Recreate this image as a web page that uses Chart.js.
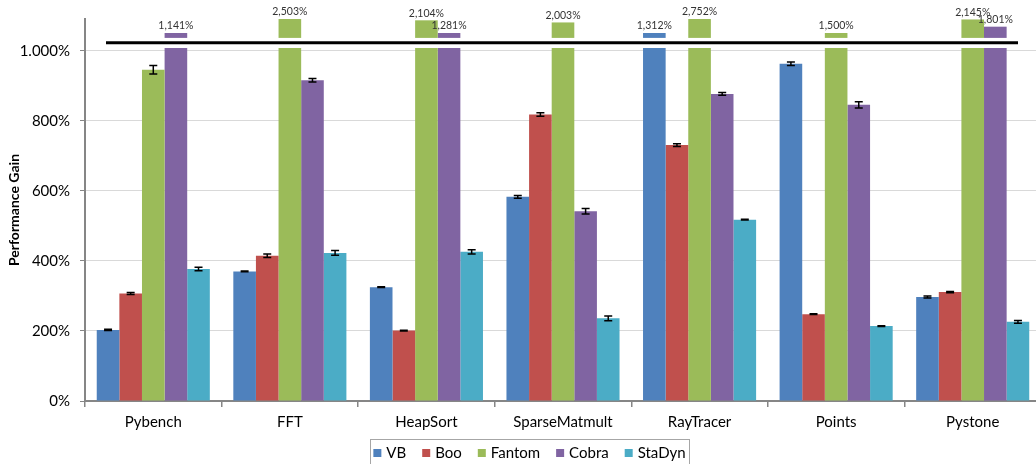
<!DOCTYPE html>
<html>
<head>
<meta charset="utf-8">
<title>Performance Gain</title>
<script src="https://cdn.jsdelivr.net/npm/chart.js@4/dist/chart.umd.min.js"></script>
<style>
  html, body { margin: 0; padding: 0; background: #fff; overflow: hidden; width: 1036px; height: 464px; }
  canvas { display: block; }
</style>
</head>
<body>
<canvas id="chart" width="1041" height="464" style="width:1041px;height:464px"></canvas>
<script>
// Benchmarks and languages
const categories = ['Pybench', 'FFT', 'HeapSort', 'SparseMatmult', 'RayTracer', 'Points', 'Pystone'];
const seriesNames = ['VB', 'Boo', 'Fantom', 'Cobra', 'StaDyn'];

// Performance gain (%) per benchmark
const vbGain     = [203, 370, 325, 583, 1312, 963, 297];
const booGain    = [307, 415, 201, 818, 731, 248, 311];
const fantomGain = [946, 2503, 2104, 2003, 2752, 1500, 2145];
const cobraGain  = [1141, 916, 1281, 542, 877, 846, 1801];
const stadynGain = [377, 423, 426, 236, 518, 214, 226];

// Half-width of the error bars (%), null where no bar is shown
const vbErr     = [2, 1, 1, 4, null, 5, 3];
const booErr    = [3, 5, 1, 5, 4, 1, 2];
const fantomErr = [12, null, null, null, null, null, null];
const cobraErr  = [null, 5, null, 8, 4, 9, null];
const stadynErr = [5, 7, 6, 7, 1, 1, 4];

// Value axis ticks
const yTickValues = [0, 200, 400, 600, 800, 1000];
const yTickLabels = ['0%', '200%', '400%', '600%', '800%', '1.000%'];

const seriesValues = [vbGain, booGain, fantomGain, cobraGain, stadynGain];
const seriesErrors = [vbErr, booErr, fantomErr, cobraErr, stadynErr];
const seriesColors = ['#4F81BD', '#C0504D', '#9BBB59', '#8064A2', '#4BACC6'];

// Broken value axis: bars above BREAK_AT are cut and continued as a short stub above the break line
const BREAK_AT = 1000;
const LOWER_TOP = 1008;
const BREAK_LINE = 1023;
const STUB_BASE = 1037;
const AXIS_TOP = 1091;
function stubHeight(v) {
  return Math.min(54, 14 + Math.max(0, v - 1500) * 0.06);
}

const FONT = 'Lato, "Open Sans", sans-serif';
const fmtValue = v => v.toLocaleString('en-US') + '%';

const commonBar = {
  borderWidth: 0,
  categoryPercentage: 0.828,
  barPercentage: 1.0
};

const lowerSets = seriesValues.map((vals, i) => Object.assign({
  label: seriesNames[i],
  data: vals.map(v => Math.min(v, LOWER_TOP)),
  backgroundColor: seriesColors[i],
  stack: seriesNames[i]
}, commonBar));

const stubSets = seriesValues.map((vals, i) => Object.assign({
  label: seriesNames[i] + ' (continued)',
  data: vals.map(v => v > BREAK_AT ? [STUB_BASE, STUB_BASE + stubHeight(v)] : null),
  backgroundColor: seriesColors[i],
  stack: seriesNames[i]
}, commonBar));

// Error bars, value labels on the cut bars and the break line
const breakMarks = {
  id: 'breakMarks',
  afterDatasetsDraw(chart) {
    const ctx = chart.ctx;
    const y = chart.scales.y;
    const area = chart.chartArea;
    ctx.save();

    // error bars
    ctx.strokeStyle = '#000';
    ctx.lineWidth = 1.5;
    seriesValues.forEach((vals, i) => {
      const meta = chart.getDatasetMeta(i);
      meta.data.forEach((bar, j) => {
        const e = seriesErrors[i][j];
        if (e == null || vals[j] > BREAK_AT) return;
        const yHi = y.getPixelForValue(vals[j] + e);
        const yLo = y.getPixelForValue(vals[j] - e);
        const x = bar.x;
        ctx.beginPath();
        ctx.moveTo(x, yHi); ctx.lineTo(x, yLo);
        ctx.moveTo(x - 4, yHi); ctx.lineTo(x + 4, yHi);
        ctx.moveTo(x - 4, yLo); ctx.lineTo(x + 4, yLo);
        ctx.stroke();
      });
    });

    // values of the cut bars
    ctx.fillStyle = '#333';
    ctx.font = '10.5px ' + FONT;
    ctx.textAlign = 'center';
    ctx.textBaseline = 'middle';
    seriesValues.forEach((vals, i) => {
      const meta = chart.getDatasetMeta(seriesValues.length + i);
      meta.data.forEach((bar, j) => {
        if (vals[j] <= BREAK_AT) return;
        ctx.fillText(fmtValue(vals[j]), bar.x, bar.y - 7);
      });
    });

    // break line
    const yb = y.getPixelForValue(BREAK_LINE);
    ctx.strokeStyle = '#000';
    ctx.lineWidth = 3;
    ctx.beginPath();
    ctx.moveTo(area.left + 21, yb);
    ctx.lineTo(area.right - 23, yb);
    ctx.stroke();
    ctx.restore();
  }
};

// Boxed legend below the axis labels
const boxedLegend = {
  id: 'boxedLegend',
  afterDraw(chart) {
    const ctx = chart.ctx;
    const boxLeft = 370, boxRight = 689, boxTop = 439.5;
    const cy = 453;
    const sq = 8, gap = 5, spacing = 16;
    ctx.save();
    ctx.font = '15px ' + FONT;
    const widths = seriesNames.map(n => ctx.measureText(n).width);
    const total = widths.reduce((a, w) => a + sq + gap + w, 0) + spacing * (seriesNames.length - 1);
    let x = (boxLeft + boxRight) / 2 - total / 2;

    ctx.strokeStyle = '#a6a6a6';
    ctx.lineWidth = 1;
    ctx.strokeRect(boxLeft + 0.5, boxTop, boxRight - boxLeft, 40);

    ctx.textBaseline = 'middle';
    ctx.textAlign = 'left';
    seriesNames.forEach((n, i) => {
      ctx.fillStyle = seriesColors[i];
      ctx.fillRect(x, cy - sq / 2, sq, sq);
      ctx.fillStyle = '#000';
      ctx.fillText(n, x + sq + gap, cy);
      x += sq + gap + widths[i] + spacing;
    });
    ctx.restore();
  }
};

new Chart(document.getElementById('chart'), {
  type: 'bar',
  data: { labels: categories, datasets: lowerSets.concat(stubSets) },
  options: {
    responsive: false,
    animation: false,
    layout: { padding: { top: 18, left: 0, right: 0, bottom: 0 } },
    datasets: { bar: { clip: false } },
    plugins: {
      legend: { display: false },
      tooltip: { enabled: false }
    },
    scales: {
      x: {
        offset: true,
        grid: { offset: true, drawOnChartArea: false, drawTicks: true, tickLength: 6, color: '#868686', lineWidth: 1.5 },
        border: { color: '#868686', width: 2 },
        ticks: { color: '#000', font: { family: FONT, size: 15 }, padding: 6, maxRotation: 0, autoSkip: false },
        afterFit(s) { s.height = 63; }
      },
      y: {
        min: 0,
        max: AXIS_TOP,
        stacked: false,
        afterBuildTicks(s) { s.ticks = yTickValues.map(v => ({ value: v })); },
        ticks: {
          color: '#000',
          font: { family: FONT, size: 15 },
          padding: 10,
          callback: v => yTickLabels[yTickValues.indexOf(v)]
        },
        grid: { color: '#d9d9d9', lineWidth: 1, tickColor: '#868686', tickLength: 5 },
        border: { color: '#868686', width: 2 },
        title: {
          display: true,
          text: 'Performance Gain',
          color: '#000',
          font: { family: FONT, size: 14, weight: 'bold' },
          padding: { top: 6, bottom: 0 }
        },
        afterFit(s) { s.width = 85; }
      }
    }
  },
  plugins: [breakMarks, boxedLegend]
});
</script>
</body>
</html>
